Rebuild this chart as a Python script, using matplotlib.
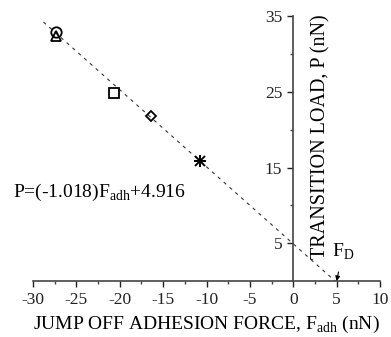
import numpy as np
import matplotlib
matplotlib.use("Agg")
import matplotlib.pyplot as plt

plt.rcParams["font.family"] = ["Liberation Serif", "DejaVu Serif"]
plt.rcParams["mathtext.fontset"] = "custom"
plt.rcParams["mathtext.rm"] = "Liberation Serif"
plt.rcParams["axes.unicode_minus"] = False

# data
f_adh = [-27.3, -27.3, -20.7, -16.4, -10.8]
load_p = [32.9, 32.4, 24.8, 21.8, 15.9]
markers = ["o", "^", "s", "D", "star"]
slope, icept = -1.018, 4.916
fit_x = [-28.8, -icept / slope]
x_ticks = [-30, -25, -20, -15, -10, -5, 0, 5, 10]
y_ticks = [5, 15, 25, 35]

fig = plt.figure(figsize=(3.91, 3.37), dpi=100)
ax = fig.add_axes([0.0844, 0.166, 0.8875, 0.786])

fx = np.array(fit_x)
ax.plot(fx, slope * fx + icept, color="#333333", lw=0.8, ls=(0, (3, 4)))

for x, y, m in zip(f_adh, load_p, markers):
    if m == "star":
        ax.plot(x, y, marker="+", ms=9, mew=1.4, color="black", ls="none")
        ax.plot(x, y, marker="x", ms=7, mew=1.4, color="black", ls="none")
    else:
        ms = {"o": 7.5, "^": 7.5, "s": 6.5, "D": 5.5}[m]
        ax.plot(x, y, marker=m, ms=ms, mfc="none", mec="black", mew=1.3, ls="none")

ax.set_xlim(-30, 10)
ax.set_ylim(0, 35)
ax.spines["top"].set_visible(False)
ax.spines["right"].set_visible(False)
ax.spines["left"].set_position(("data", 0))
for s in ("left", "bottom"):
    ax.spines[s].set_color("#444444")
    ax.spines[s].set_linewidth(1.2)

ax.set_xticks(x_ticks)
ax.set_xticks(np.arange(-27.5, 10, 5), minor=True)
ax.set_yticks(y_ticks)
ax.set_yticks([10, 20, 30], minor=True)
ax.tick_params(which="major", length=4, width=1, labelsize=12.5, colors="#222222", pad=4)
ax.tick_params(which="minor", length=2.5, width=1, colors="#444444")

ax.set_xlabel(r"JUMP OFF ADHESION FORCE, F$_{\rm adh}$ (nN)", fontsize=14, labelpad=4)
fig.text(0.82, 1 - 137 / 337, "TRANSITION LOAD, P (nN)", rotation=90,
         fontsize=14.5, ha="center", va="center")

ax.text(-32.3, 11.7, r"P=(-1.018)F$_{\rm adh}$+4.916", fontsize=14, ha="left", va="center")

ax.annotate(r"F$_{\rm D}$", xy=(5, 0), xytext=(5.7, 3.8), fontsize=14,
            ha="center", va="center",
            arrowprops=dict(arrowstyle="-|>", color="black", lw=0.8,
                            mutation_scale=7, shrinkA=5, shrinkB=0))

fig.savefig("out.png", dpi=100)
